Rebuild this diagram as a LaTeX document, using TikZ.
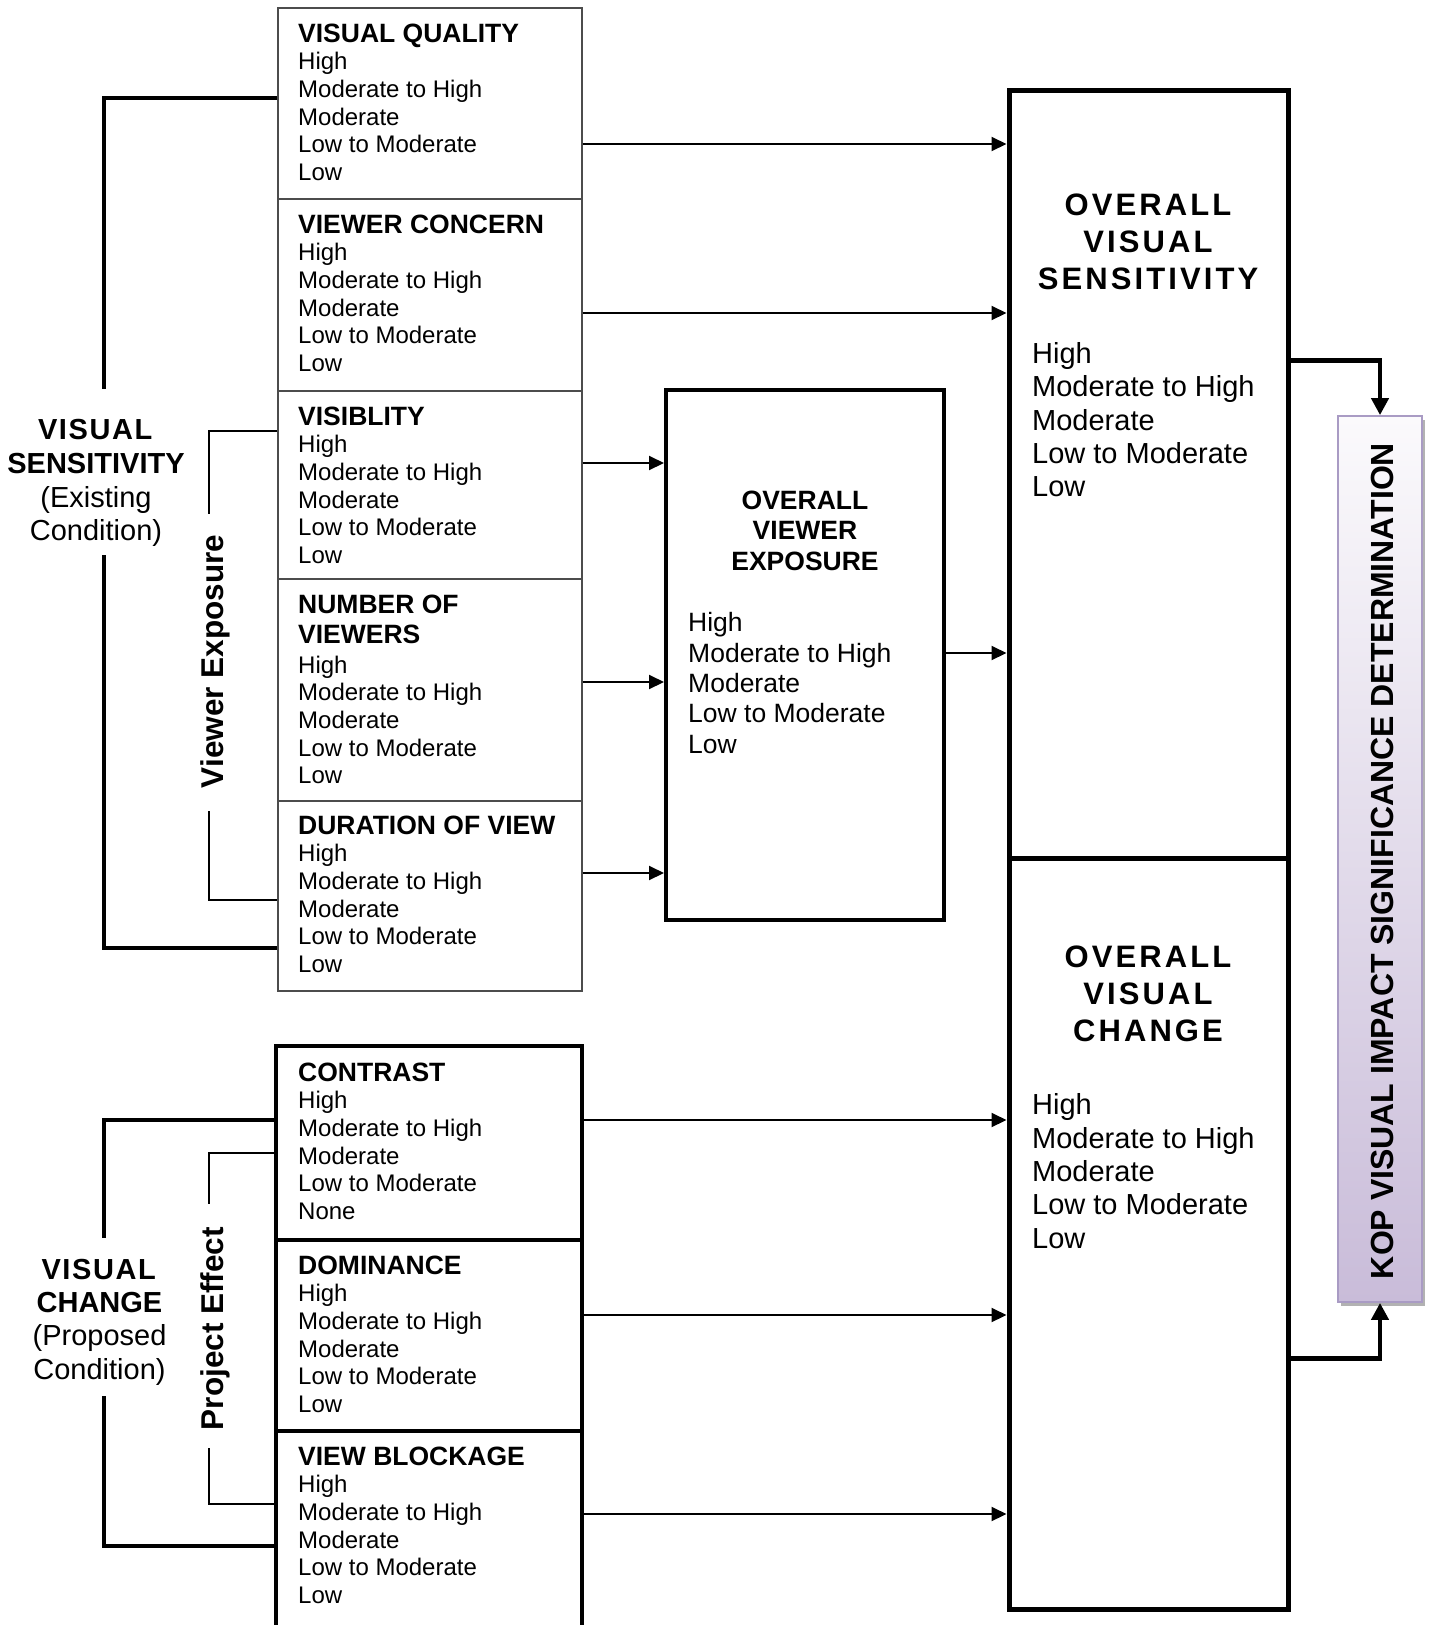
\documentclass[tikz,border=0pt]{standalone}
\usepackage{fontspec}
\setmainfont{Liberation Sans}
\newfontfamily\spacedfont[LetterSpace=10]{Liberation Sans}
\usetikzlibrary{arrows.meta,shadows}
\definecolor{koptop}{HTML}{FBFAFC}
\definecolor{kopbot}{HTML}{C9BCD9}
\definecolor{kopline}{HTML}{A99BC4}
\newcommand\ttl[1]{{\fontsize{26.5}{27.6}\selectfont\bfseries #1}}
\newcommand\wide[1]{{\addfontfeature{LetterSpace=5.5}#1}}
\begin{document}
\begin{tikzpicture}[x=1pt,y=-1pt,
  tbox/.style={draw=black!70, line width=1.4pt, inner sep=0pt, rectangle},
  kbox/.style={draw=black, line width=4pt, inner sep=0pt, rectangle},
  bigbox/.style={draw=black, line width=5pt, inner sep=0pt, rectangle},
  btxt/.style={anchor=north west, align=left, inner sep=0pt, font=\fontsize{24}{27.6}\selectfont},
  arr/.style={line width=2pt, -{Triangle[length=15pt,width=14pt]}},
  bigarr/.style={line width=4.5pt, line join=miter, -{Triangle[length=17pt,width=17pt]}},
  brk/.style={line width=4.5pt, line join=miter},
  thinbrk/.style={line width=1.5pt, line join=miter},
  rottxt/.style={rotate=90, anchor=base, inner sep=0pt}]
\path[fill=white,use as bounding box] (0,0) rectangle (1429,1625);

% ---- top group boxes
\node[tbox, minimum width=304pt, minimum height=191pt] (qual) at (430,103.5) {};
\node[tbox, minimum width=304pt, minimum height=192pt] (conc) at (430,295) {};
\node[tbox, minimum width=304pt, minimum height=188pt] (visi) at (430,485) {};
\node[tbox, minimum width=304pt, minimum height=222pt] (numv) at (430,690) {};
\node[tbox, minimum width=304pt, minimum height=190pt] (dura) at (430,896) {};

\node[btxt] (qualT) at (298,22) {\rule{0pt}{20pt}\ttl{VISUAL QUALITY}\\High\\Moderate to High\\Moderate\\Low to Moderate\\Low};
\node[btxt] (concT) at (298,213) {\rule{0pt}{20pt}\ttl{VIEWER CONCERN}\\High\\Moderate to High\\Moderate\\Low to Moderate\\Low};
\node[btxt] (visiT) at (298,405) {\rule{0pt}{20pt}\ttl{VISIBLITY}\\High\\Moderate to High\\Moderate\\Low to Moderate\\Low};
\node[btxt] (numvT) at (298,593) {\rule{0pt}{20pt}\ttl{NUMBER OF}\\[2.4pt]\ttl{VIEWERS}\\[2.4pt]High\\Moderate to High\\Moderate\\Low to Moderate\\Low};
\node[btxt] (duraT) at (298,814) {\rule{0pt}{20pt}\ttl{DURATION OF VIEW}\\High\\Moderate to High\\Moderate\\Low to Moderate\\Low};

% ---- bottom group boxes
\node[kbox, minimum width=306pt, minimum height=194pt] (cont) at (429,1143) {};
\node[kbox, minimum width=306pt, minimum height=191pt] (domi) at (429,1335.5) {};
\node[kbox, minimum width=306pt, minimum height=209pt] (vblk) at (429,1535.5) {};

\node[btxt] (contT) at (298,1061) {\rule{0pt}{20pt}\ttl{CONTRAST}\\High\\Moderate to High\\Moderate\\Low to Moderate\\None};
\node[btxt] (domiT) at (298,1254) {\rule{0pt}{20pt}\ttl{DOMINANCE}\\High\\Moderate to High\\Moderate\\Low to Moderate\\Low};
\node[btxt] (vblkT) at (298,1445) {\rule{0pt}{20pt}\ttl{VIEW BLOCKAGE}\\High\\Moderate to High\\Moderate\\Low to Moderate\\Low};

% ---- overall viewer exposure
\node[kbox, minimum width=278pt, minimum height=530pt] (ove) at (805,655) {};
\node[anchor=north, align=center, inner sep=0pt, font=\fontsize{26.5}{30.5}\selectfont\bfseries] (oveT) at (805,489) {\rule{0pt}{20pt}OVERALL\\VIEWER\\EXPOSURE};
\node[anchor=north west, align=left, inner sep=0pt, font=\fontsize{26.5}{30.3}\selectfont] (oveB) at (688,611.6) {\rule{0pt}{20pt}High\\Moderate to High\\Moderate\\Low to Moderate\\Low};

% ---- overall visual sensitivity / change
\node[bigbox, minimum width=279pt, minimum height=768pt] (ovs) at (1148.5,474) {};
\node[bigbox, minimum width=279pt, minimum height=751pt] (ovc) at (1148.5,1233.5) {};
\node[anchor=north, align=center, inner sep=0pt, font=\fontsize{31}{36.7}\spacedfont\bfseries] (ovsT) at (1148,190.7) {\rule{0pt}{25pt}OVERALL\\VISUAL\\SENSITIVITY};
\node[anchor=north west, align=left, inner sep=0pt, font=\fontsize{29}{33.35}\selectfont] (ovsB) at (1032,338.3) {\rule{0pt}{25pt}High\\Moderate to High\\Moderate\\Low to Moderate\\Low};
\node[anchor=north, align=center, inner sep=0pt, font=\fontsize{31}{37.2}\spacedfont\bfseries] (ovcT) at (1148,942) {\rule{0pt}{25pt}OVERALL\\VISUAL\\CHANGE};
\node[anchor=north west, align=left, inner sep=0pt, font=\fontsize{29}{33.35}\selectfont] (ovcB) at (1032,1089.6) {\rule{0pt}{25pt}High\\Moderate to High\\Moderate\\Low to Moderate\\Low};

% ---- KOP box
\node[draw=kopline, line width=1.8pt, top color=koptop, bottom color=kopbot, inner sep=0pt,
      minimum width=84pt, minimum height=886pt,
      drop shadow={shadow xshift=3pt, shadow yshift=-4pt, fill=black!30, opacity=1}] (kop) at (1380,859) {};
\node[rottxt, font=\fontsize{32}{36}\selectfont\bfseries] (kopT) at (1393,861) {KOP VISUAL IMPACT SIGNIFICANCE DETERMINATION};

% ---- left labels
\node[anchor=north, align=center, inner sep=0pt, font=\fontsize{29}{33.9}\selectfont] (vsL) at (96,417) {\rule{0pt}{22pt}\textbf{\wide{VISUAL}}\\\textbf{SENSITIVITY}\\(Existing\\Condition)};
\node[anchor=north, align=center, inner sep=0pt, font=\fontsize{29}{33.3}\selectfont] (vcL) at (99.5,1257) {\rule{0pt}{22pt}\textbf{\wide{VISUAL}}\\\textbf{CHANGE}\\(Proposed\\Condition)};
\node[rottxt, font=\fontsize{31.5}{36}\selectfont\bfseries] (veL) at (223,661.5) {Viewer Exposure};
\node[rottxt, font=\fontsize{31.5}{36}\selectfont\bfseries] (peL) at (223,1328.5) {Project Effect};

% ---- brackets
\coordinate (vsA) at (104,98);
\coordinate (vsB) at (104,389);
\coordinate (vsC) at (104,555);
\coordinate (vsD) at (104,948);
\draw[brk] (vsA -| qual.west) -- (vsA) -- (vsB);
\draw[brk] (vsC) -- (vsD) -- (vsD -| dura.west);

\coordinate (veA) at (209,431);
\coordinate (veB) at (209,514);
\coordinate (veC) at (209,811);
\coordinate (veD) at (209,900);
\draw[thinbrk] (veA -| visi.west) -- (veA) -- (veB);
\draw[thinbrk] (veC) -- (veD) -- (veD -| dura.west);

\coordinate (vcA) at (104,1120);
\coordinate (vcB) at (104,1238);
\coordinate (vcC) at (104,1396);
\coordinate (vcD) at (104,1546);
\draw[brk] (vcA -| cont.west) -- (vcA) -- (vcB);
\draw[brk] (vcC) -- (vcD) -- (vcD -| vblk.west);

\coordinate (peA) at (209,1153);
\coordinate (peB) at (209,1204);
\coordinate (peC) at (209,1448);
\coordinate (peD) at (209,1504);
\draw[thinbrk] (peA -| cont.west) -- (peA) -- (peB);
\draw[thinbrk] (peC) -- (peD) -- (peD -| vblk.west);

% ---- arrows
\coordinate (y1) at (0,144);
\coordinate (y2) at (0,313);
\coordinate (y3) at (0,463);
\coordinate (y4) at (0,682);
\coordinate (y5) at (0,873);
\coordinate (y6) at (0,653);
\coordinate (y7) at (0,1120);
\coordinate (y8) at (0,1315);
\coordinate (y9) at (0,1514);
\draw[arr] (y1 -| qual.east) -- (y1 -| ovs.west);
\draw[arr] (y2 -| conc.east) -- (y2 -| ovs.west);
\draw[arr] (y3 -| visi.east) -- (y3 -| ove.west);
\draw[arr] (y4 -| numv.east) -- (y4 -| ove.west);
\draw[arr] (y5 -| dura.east) -- (y5 -| ove.west);
\draw[arr] (y6 -| ove.east) -- (y6 -| ovs.west);
\draw[arr] (y7 -| cont.east) -- (y7 -| ovc.west);
\draw[arr] (y8 -| domi.east) -- (y8 -| ovc.west);
\draw[arr] (y9 -| vblk.east) -- (y9 -| ovc.west);

\coordinate (k1) at (0,360.5);
\coordinate (k2) at (0,1358.5);
\draw[bigarr] (k1 -| ovs.east) -| (kop.north);
\draw[bigarr] (k2 -| ovc.east) -| (kop.south);
\end{tikzpicture}
\end{document}
